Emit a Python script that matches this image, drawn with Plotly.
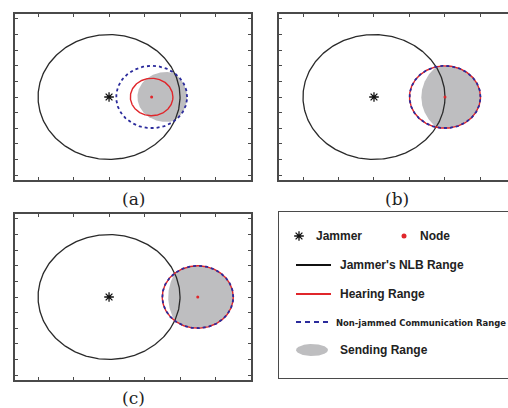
import numpy as np
import plotly.graph_objects as go

# ---- data (units of the plot axes) ----
panels = ["a", "b", "c"]
jammer_x = [0.0, 0.0, 0.0]
jammer_y = [0.0, 0.0, 0.0]
nlb_radius = [2.0, 2.0, 2.0]
node_x = [1.2, 2.0, 2.5]
node_y = [0.0, 0.0, 0.0]
hearing_radius = [0.6, 1.0, 1.0]
comm_radius = [1.0, 1.0, 1.0]
sinr_ratio = [0.5, 0.5, 0.5]   # sending-range boundary: d(node) <= k * d(jammer)
panel_labels = ["(a)", "(b)", "(c)"]
legend_labels = ["Jammer", "Node", "Jammer's NLB Range", "Hearing Range",
                 "Non-jammed Communication Range", "Sending Range"]

W, H = 508, 408
def px(x): return x / W
def py(y): return 1 - y / H

x_ranges = [[-2.65, 4.0], [-2.676, 3.775], [-2.65, 4.0]]
y_range = [-2.66, 2.66]
x_domains = [[px(15), px(251)], [px(279), 1.0], [px(15), px(251)]]
y_domains = [[py(180), py(14)], [py(180), py(14)], [py(380), py(214)]]

BLACK = "#2a2a2a"
RED = "#e0262b"
BLUE = "#2b2b9c"
GRAY = "#bebec0"
FRAME = "#4a4a4a"

def circle(cx, cy, r, n=361):
    t = np.linspace(0, 2 * np.pi, n)
    return cx + r * np.cos(t), cy + r * np.sin(t)

def sending_region(nx, ny, jx, jy, rc, k, n=400):
    ax = (nx - k * k * jx) / (1 - k * k)
    ay = (ny - k * k * jy) / (1 - k * k)
    ar = k * np.hypot(nx - jx, ny - jy) / (1 - k * k)
    circles = [(nx, ny, rc), (ax, ay, ar)]
    left = max(nx - rc, ax - ar)
    right = min(nx + rc, ax + ar)
    p = np.array([(left + right) / 2, ny])
    xs, ys = [], []
    for th in np.linspace(0, 2 * np.pi, n):
        d = np.array([np.cos(th), np.sin(th)])
        tmin = np.inf
        for (cx, cy, r) in circles:
            v = p - np.array([cx, cy])
            b = d @ v
            c = v @ v - r * r
            t = -b + np.sqrt(b * b - c)
            tmin = min(tmin, t)
        q = p + tmin * d
        xs.append(q[0]); ys.append(q[1])
    return xs, ys

fig = go.Figure()

for i in range(3):
    xa = "x" if i == 0 else f"x{i+1}"
    ya = "y" if i == 0 else f"y{i+1}"
    sx, sy = sending_region(node_x[i], node_y[i], jammer_x[i], jammer_y[i],
                            comm_radius[i], sinr_ratio[i])
    fig.add_trace(go.Scatter(x=sx, y=sy, fill="toself", fillcolor=GRAY,
                             line=dict(width=0), mode="lines", xaxis=xa, yaxis=ya,
                             hoverinfo="skip", showlegend=False))
    cx, cy = circle(jammer_x[i], jammer_y[i], nlb_radius[i])
    fig.add_trace(go.Scatter(x=cx, y=cy, mode="lines", line=dict(color=BLACK, width=1.3),
                             xaxis=xa, yaxis=ya, showlegend=False))
    cx, cy = circle(node_x[i], node_y[i], hearing_radius[i])
    fig.add_trace(go.Scatter(x=cx, y=cy, mode="lines", line=dict(color=RED, width=1.4),
                             xaxis=xa, yaxis=ya, showlegend=False))
    cx, cy = circle(node_x[i], node_y[i], comm_radius[i])
    fig.add_trace(go.Scatter(x=cx, y=cy, mode="lines",
                             line=dict(color=BLUE, width=1.8, dash="3px,3px"),
                             xaxis=xa, yaxis=ya, showlegend=False))
    fig.add_trace(go.Scatter(x=[jammer_x[i]], y=[jammer_y[i]], mode="markers",
                             marker=dict(symbol="asterisk-open", size=8, color="#111",
                                         line=dict(color="#111", width=1.3)),
                             xaxis=xa, yaxis=ya, showlegend=False))
    fig.add_trace(go.Scatter(x=[node_x[i]], y=[node_y[i]], mode="markers",
                             marker=dict(symbol="circle", size=3, color=RED),
                             xaxis=xa, yaxis=ya, showlegend=False))

axis_common = dict(showgrid=False, zeroline=False, showticklabels=False,
                   ticks="inside", ticklen=3, tickwidth=1, tickcolor=FRAME,
                   showline=True, linecolor=FRAME, linewidth=1.5)
layout = dict(width=W, height=H, margin=dict(l=0, r=0, t=0, b=0),
              plot_bgcolor="white", paper_bgcolor="white")
for i in range(3):
    xk = "xaxis" if i == 0 else f"xaxis{i+1}"
    yk = "yaxis" if i == 0 else f"yaxis{i+1}"
    ya = "y" if i == 0 else f"y{i+1}"
    xa = "x" if i == 0 else f"x{i+1}"
    layout[xk] = dict(axis_common, domain=x_domains[i], range=x_ranges[i],
                      dtick=1, tick0=0, mirror="allticks", anchor=ya)
    layout[yk] = dict(axis_common, domain=y_domains[i], range=y_range,
                      dtick=0.5, tick0=0, mirror=("allticks" if i != 1 else False),
                      anchor=xa)

layout["xaxis4"] = dict(domain=[px(279), 1.0], range=[279, 508], visible=True,
                        showgrid=False, zeroline=False, showticklabels=False,
                        ticks="", showline=True, linecolor=FRAME, linewidth=1.2,
                        mirror=True, anchor="y4")
layout["yaxis4"] = dict(domain=[py(378), py(212)], range=[378, 212],
                        showgrid=False, zeroline=False, showticklabels=False,
                        ticks="", showline=True, linecolor=FRAME, linewidth=1.2,
                        mirror=False, anchor="x4")
fig.update_layout(**layout)

fig.add_trace(go.Scatter(x=[299], y=[236], mode="markers", xaxis="x4", yaxis="y4",
                         marker=dict(symbol="asterisk-open", size=8, color="#111",
                                     line=dict(color="#111", width=1.3)), showlegend=False))
fig.add_trace(go.Scatter(x=[404], y=[236], mode="markers", xaxis="x4", yaxis="y4",
                         marker=dict(symbol="circle", size=5, color=RED), showlegend=False))
fig.add_trace(go.Scatter(x=[296, 331], y=[265, 265], mode="lines", xaxis="x4", yaxis="y4",
                         line=dict(color="#111", width=2), showlegend=False))
fig.add_trace(go.Scatter(x=[296, 331], y=[294, 294], mode="lines", xaxis="x4", yaxis="y4",
                         line=dict(color=RED, width=2), showlegend=False))
fig.add_trace(go.Scatter(x=[296, 332], y=[322, 322], mode="lines", xaxis="x4", yaxis="y4",
                         line=dict(color=BLUE, width=2, dash="5px,4px"), showlegend=False))
ex, ey = circle(312, 350, 1.0)
fig.add_trace(go.Scatter(x=312 + (ex - 312) * 16, y=350 + (ey - 350) * 6, mode="lines",
                         fill="toself", fillcolor=GRAY, line=dict(width=0),
                         xaxis="x4", yaxis="y4", showlegend=False))

leg_pos = [(314, 236), (418, 236), (338, 265), (338, 294), (334, 322), (338, 350)]
for j, lab in enumerate(legend_labels):
    xx, yy = leg_pos[j]
    if j == 4:
        f = dict(family="DejaVu Sans Condensed, Liberation Sans, sans-serif",
                 size=9.4, color="#222", weight="bold")
    else:
        f = dict(family="Liberation Sans, Arial, sans-serif", size=12, color="#222",
                 weight="bold")
    fig.add_annotation(x=xx, y=yy, xref="x4", yref="y4", text=lab, showarrow=False,
                       xanchor="left", yanchor="middle", font=f)

lab_pos = [(133, 199), (397, 199), (133, 398)]
for j, lab in enumerate(panel_labels):
    xx, yy = lab_pos[j]
    fig.add_annotation(x=px(xx), y=py(yy), xref="paper", yref="paper", text=lab,
                       showarrow=False, xanchor="center", yanchor="middle",
                       font=dict(family="DejaVu Serif, Liberation Serif, serif", size=17,
                                 color="#222"))

fig.write_html("out.html", config={"displayModeBar": False},
               post_script="document.body.style.margin='0px';document.body.style.overflow='hidden';")
